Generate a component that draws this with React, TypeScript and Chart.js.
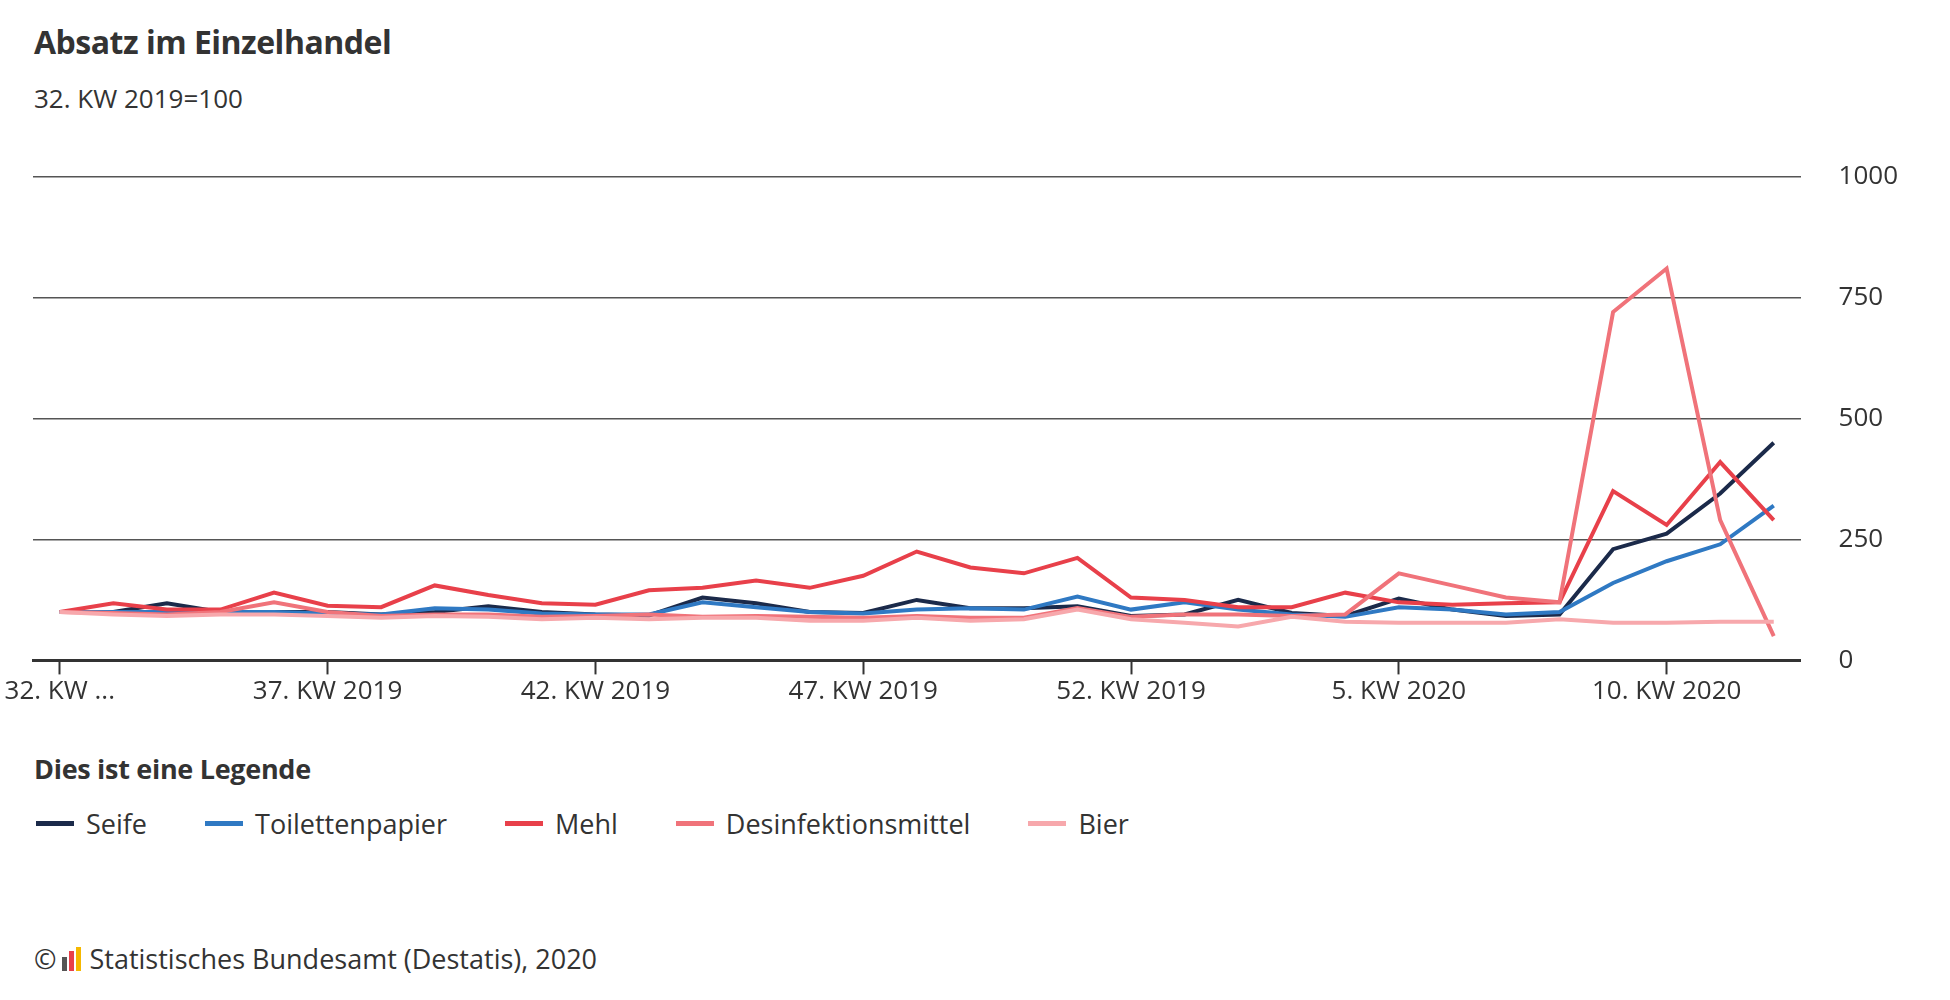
import React, { useEffect, useRef } from "react";
import { Chart, registerables } from "chart.js";
Chart.register(...registerables);

const weeks2019 = [32,33,34,35,36,37,38,39,40,41,42,43,44,45,46,47,48,49,50,51,52];
const weeks2020 = [1,2,3,4,5,6,7,8,9,10,11,12];
const categories = [...weeks2019.map(w => `${w}. KW 2019`), ...weeks2020.map(w => `${w}. KW 2020`)];

const seife = [100,100,118,100,100,100,95,100,112,100,95,93,130,118,100,98,125,108,108,112,92,95,125,98,92,128,105,92,95,230,262,345,450];
const toilettenpapier = [100,100,100,100,100,97,95,108,105,97,95,95,120,110,100,97,105,108,105,132,105,120,105,95,90,110,105,95,100,160,205,240,320];
const mehl = [100,118,105,105,140,113,110,155,135,118,115,145,150,165,150,175,225,192,180,212,130,125,110,110,140,120,115,118,120,350,280,410,290];
const desinfektion = [100,98,95,100,120,100,92,95,95,90,92,95,90,92,90,88,92,88,88,108,90,95,95,92,95,180,155,130,120,720,810,290,50];
const bier = [100,95,92,95,95,92,88,92,90,85,88,85,88,88,82,82,88,82,85,105,85,78,70,90,80,78,78,78,85,78,78,80,80];
const yTicks = [0, 250, 500, 750, 1000];

const seriesNames = ["Seife", "Toilettenpapier", "Mehl", "Desinfektionsmittel", "Bier"];
const colors = ["#1b2a4a", "#2f79c3", "#e8404a", "#f0737a", "#f7a8ac"];
const seriesData = [seife, toilettenpapier, mehl, desinfektion, bier];

const FONT = "'Open Sans', sans-serif";

export default function App() {
  const ref = useRef<HTMLCanvasElement>(null);
  useEffect(() => {
    const chart = new Chart(ref.current!, {
      type: "line",
      data: {
        labels: categories,
        datasets: seriesNames.map((n, i) => ({
          label: n,
          data: seriesData[i],
          borderColor: colors[i],
          backgroundColor: colors[i],
          borderWidth: 4,
          pointRadius: 0,
          tension: 0,
          order: 5 - i,
        })),
      },
      options: {
        animation: false,
        responsive: false,
        maintainAspectRatio: false,
        layout: { padding: { left: 33, top: 14, right: 4 } },
        plugins: { legend: { display: false }, tooltip: { enabled: false } },
        scales: {
          x: {
            offset: true,
            grid: {
              offset: false,
              drawOnChartArea: false,
              tickLength: 14,
              tickWidth: 2,
              tickColor: (ctx: any) => (ctx.index % 5 === 0 ? "#333" : "rgba(0,0,0,0)"),
            },
            border: { display: true, color: "#333", width: 3 },
            ticks: {
              autoSkip: false,
              maxRotation: 0,
              color: "#333",
              font: { family: FONT, size: 26 },
              padding: 2,
              callback: (_v: any, i: number) => (i === 0 ? "32. KW ..." : i % 5 === 0 ? categories[i] : ""),
            },
          },
          y: {
            position: "right",
            min: 0,
            max: 1000,
            afterBuildTicks: (axis: any) => { axis.ticks = yTicks.map(v => ({ value: v })); },
            border: { display: false },
            grid: { color: (ctx: any) => (ctx.tick && ctx.tick.value === 0 ? "rgba(0,0,0,0)" : "#555"), lineWidth: 1.5, drawTicks: false },
            ticks: { color: "#333", font: { family: FONT, size: 26 }, padding: 38, callback: (v: any) => String(v) },
          },
        },
      },
    });
    return () => chart.destroy();
  }, []);

  return (
    <div style={{ position: "absolute", left: 0, top: 0, width: 1950, height: 1000, fontFamily: FONT, color: "#333" }}>
      <div style={{ position: "absolute", left: 34, top: 20, fontSize: 32, fontWeight: 700, letterSpacing: -0.5 }}>Absatz im Einzelhandel</div>
      <div style={{ position: "absolute", left: 34, top: 80, fontSize: 26 }}>32. KW 2019=100</div>
      <canvas ref={ref} width={1940} height={591} style={{ position: "absolute", left: 0, top: 123, width: 1940, height: 591 }} />
      <div style={{ position: "absolute", left: 34, top: 750, fontSize: 27, fontWeight: 700, letterSpacing: -0.3 }}>Dies ist eine Legende</div>
      <div style={{ position: "absolute", left: 36, top: 805, display: "flex", fontSize: 27 }}>
        {seriesNames.map((n, i) => (
          <div key={n} style={{ display: "flex", alignItems: "center", marginRight: 58 }}>
            <span style={{ display: "inline-block", width: 38, height: 5, background: colors[i], marginRight: 12 }} />
            {n}
          </div>
        ))}
      </div>
      <div style={{ position: "absolute", left: 34, top: 940, fontSize: 27, display: "flex", alignItems: "center" }}>
        <span>©</span>
        <span style={{ display: "inline-flex", alignItems: "flex-end", height: 24, margin: "0 8px 0 6px", gap: 2 }}>
          <span style={{ width: 5, height: 14, background: "#555" }} />
          <span style={{ width: 5, height: 20, background: "#e8404a" }} />
          <span style={{ width: 5, height: 24, background: "#f5b800" }} />
        </span>
        <span>Statistisches Bundesamt (Destatis), 2020</span>
      </div>
    </div>
  );
}
